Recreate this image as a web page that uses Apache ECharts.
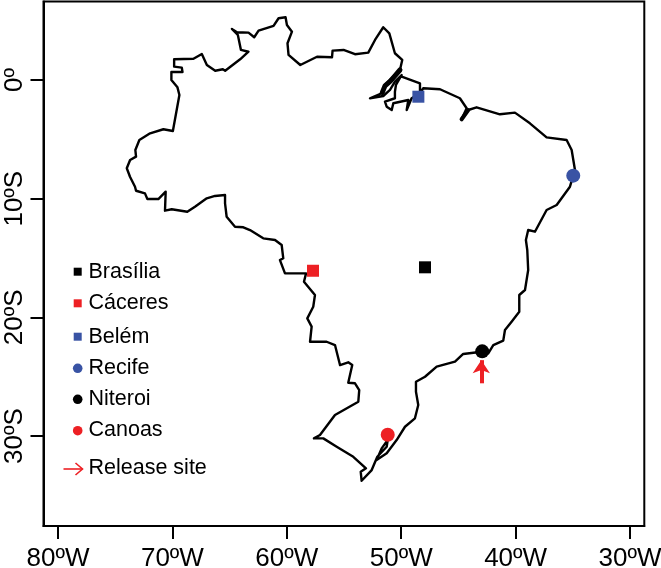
<!DOCTYPE html>
<html>
<head>
<meta charset="utf-8">
<script src="https://cdn.jsdelivr.net/npm/echarts@6/dist/echarts.min.js"></script>
<style>html,body{margin:0;padding:0;background:#fff}#c{width:661px;height:568px}</style>
</head>
<body>
<div id="c"></div>
<script>
// Axis ticks
const xTicks = [-80,-70,-60,-50,-40,-30];
const xTickLabels = ['80ºW','70ºW','60ºW','50ºW','40ºW','30ºW'];
const yTicks = [0,-10,-20,-30];
const yTickLabels = ['0º','10ºS','20ºS','30ºS'];

// Brazil outline
const outlineLon = [-73.99,-73.7,-73.18,-73.24,-72.89,-71.95,-70.79,-69.96,-69.39,-69.56,-70.09,-70.09,-69.12,-69.18,-69.85,-69.85,-68.16,-67.43,-66.99,-66.26,-65.59,-65.39,-64.08,-63.35,-64.01,-64.28,-64.8,-64.36,-63.35,-62.85,-62.47,-61.16,-60.72,-60.11,-59.99,-59.55,-59.94,-59.85,-58.82,-57.36,-56.05,-56,-55.04,-54.04,-52.88,-52.29,-51.57,-51.04,-50.55,-49.91,-50.11,-50.69,-51.42,-51.71,-52.73,-51.57,-50.98,-50.55,-49.96,-50.46,-50.55,-50.55,-51.42,-51.27,-50.83,-50.69,-49.38,-49.52,-49.09,-48.36,-48.36,-49.96,-48.36,-48.36,-48.07,-46.61,-44.87,-44.28,-44.72,-44.14,-43.41,-41.37,-40.06,-38.75,-37.29,-35.54,-35.1,-34.81,-34.96,-35.25,-36.41,-37.29,-38.31,-38.9,-39.1,-38.98,-38.9,-39.18,-39.68,-39.68,-40.35,-40.93,-41.08,-41.95,-42.39,-42.97,-44.58,-45.3,-46.9,-47.92,-48.71,-48.71,-48.51,-48.8,-49.67,-50.4,-51.27,-52.15,-52.21,-51.71,-51.18,-51.27,-52.09,-52.58,-53.46,-53.54,-53.08,-54.19,-55.64,-56.81,-57.63,-57.1,-55.79,-53.75,-53.67,-54.04,-54.63,-54.28,-54.63,-55.35,-55.79,-56.52,-57.97,-57.83,-58.21,-57.69,-57.54,-58.5,-58.32,-60.16,-60.6,-60.31,-60.45,-61.03,-62.06,-63.22,-63.8,-64.53,-65.26,-65.4,-65.4,-66.28,-67,-68.03,-68.7,-70.06,-70.65,-70.59,-71.23,-72.19,-72.4,-73.18,-73.27,-73.71,-73.99];
const outlineLat = [-7.44,-6.74,-6.46,-5.9,-5.06,-4.49,-4.15,-4.3,-1.26,-0.62,0,0.67,0.67,1.04,1.12,1.74,1.79,2.19,1.26,0.78,0.9,0.78,1.74,2.38,2.53,3.79,4.3,4.02,3.99,3.6,4.15,4.55,5.2,5.28,4.63,4.07,3.09,2.11,1.26,1.96,1.91,2.47,2.53,2.17,2.3,3.37,4.44,3.93,2.25,1.69,0.84,0.28,-0.42,-1.12,-1.54,-1.35,-0.84,-0.14,0.42,-0.42,-0.99,-1.54,-1.83,-2.25,-2.53,-1.96,-1.69,-2.53,-1.54,-1.12,-0.28,0.28,-0.28,-1.12,-0.7,-0.78,-1.54,-2.38,-3.31,-2.53,-2.3,-2.89,-2.75,-3.65,-4.83,-5.06,-5.9,-7.58,-8.06,-8.99,-10.53,-10.95,-12.78,-12.64,-13.48,-14.32,-16.01,-17.69,-18.11,-19.52,-20.36,-21.06,-21.96,-22.33,-23.03,-22.89,-23.08,-23.73,-24.15,-25,-25.42,-26.26,-27.38,-28.5,-29.21,-30.33,-31.45,-32.01,-31.87,-31.03,-30.33,-30.89,-31.74,-32.86,-33.76,-33,-32.71,-31.74,-30.9,-30.19,-30.19,-29.91,-28.22,-27.1,-26.12,-25.55,-25.5,-24.01,-23.78,-24.01,-22.33,-22.05,-22.05,-20.78,-20.08,-19.1,-18.11,-16.99,-16.29,-16.29,-15.17,-15.02,-13.9,-13.48,-13.34,-12.64,-12.41,-12.36,-11.52,-10.39,-9.69,-9.77,-9.97,-10.67,-11.1,-10.89,-11.01,-9.41,-10.03,-10.03,-9.55,-9.33,-8.99,-8.15,-7.44];

// Thick dark stretches of the coast: Amazon mouth and São Marcos bay
const estuaryLon = [-50.11,-50.55,-50.95,-51.42,-51.65];
const estuaryLat = [0.84,0.35,-0.1,-0.5,-1.05];
const bayLon = [-44.72,-44.14];
const bayLat = [-3.31,-2.53];

// Sites
const siteNames = ['Brasília','Cáceres','Belém','Recife','Niteroi','Canoas'];
const siteLon = [-47.92,-57.71,-48.5,-34.96,-42.92,-51.18];
const siteLat = [-15.78,-16.07,-1.41,-8.06,-22.86,-29.88];
const siteShape = ['rect','rect','rect','circle','circle','circle'];
const siteColor = ['#000000','#ed2024','#3953a4','#3953a4','#000000','#ed2024'];
const siteSize = [12,12,12,14,14,14];
const releaseLon = [-43,-43];
const releaseLat = [-25.55,-23.6];
const releaseLabel = 'Release site';

const legendRowY = [272,303,337,368,399,430];
const markerRowY = [271.7,303.3,336.7,368.3,399.3,430.7];
const font = '"Liberation Sans", Arial, sans-serif';

const chart = echarts.init(document.getElementById('c'), null, {renderer:'canvas'});
const pairs = (a,b)=>a.map((v,i)=>[v,b[i]]);
const series = [{
  type:'line', name:'Brazil', data:pairs(outlineLon,outlineLat),
  showSymbol:false, symbol:'none', silent:true, animation:false, z:2,
  lineStyle:{color:'#000',width:2.4,join:'round',cap:'round'}
},{
  type:'line', name:'Amazon mouth', data:pairs(estuaryLon,estuaryLat),
  showSymbol:false, symbol:'none', silent:true, animation:false, z:2,
  lineStyle:{color:'#000',width:5,join:'round',cap:'round'}
},{
  type:'line', name:'São Marcos bay', data:pairs(bayLon,bayLat),
  showSymbol:false, symbol:'none', silent:true, animation:false, z:2,
  lineStyle:{color:'#000',width:4,join:'round',cap:'round'}
}];
siteNames.forEach((n,i)=>series.push({
  type:'scatter', name:n, data:[[siteLon[i],siteLat[i]]], symbol:siteShape[i], symbolSize:siteSize[i],
  itemStyle:{color:siteColor[i],opacity:1}, animation:false, silent:true, z:4
}));
series.push({
  type:'lines', name:releaseLabel, coordinateSystem:'cartesian2d', animation:false, silent:true, z:5,
  symbol:['none','arrow'], symbolSize:13,
  lineStyle:{color:'#ed2024',width:4,opacity:1,curveness:0},
  data:[{coords:[[releaseLon[0],releaseLat[0]],[releaseLon[1],releaseLat[1]]]}]
});

const graphics = [];
const labelStyle = (t,y)=>({type:'text',x:88.5,y:y,style:{text:t,font:'21.5px '+font,fill:'#000',verticalAlign:'middle',align:'left'}});
siteNames.forEach((n,i)=>{
  graphics.push(labelStyle(n,legendRowY[i]));
  if(siteShape[i]==='rect'){
    graphics.push({type:'rect',shape:{x:73.7,y:markerRowY[i]-4,width:8,height:8},style:{fill:siteColor[i]}});
  } else {
    graphics.push({type:'circle',shape:{cx:77.7,cy:markerRowY[i],r:4.8},style:{fill:siteColor[i]}});
  }
});
graphics.push(labelStyle(releaseLabel,468));
graphics.push({type:'line',shape:{x1:63.5,y1:469,x2:82.5,y2:469},style:{stroke:'#ed2024',lineWidth:1.6}});
graphics.push({type:'polyline',shape:{points:[[75.5,463],[82.5,469],[75.5,475]]},style:{stroke:'#ed2024',lineWidth:1.6,fill:null}});

chart.setOption({
  animation:false,
  backgroundColor:'#fff',
  grid:{left:43.5,right:16.7,top:1.5,bottom:42,show:true,borderColor:'#000',borderWidth:2,backgroundColor:'transparent',containLabel:false,outerBoundsMode:'none'},
  xAxis:{type:'value',min:-81.27,max:-28.75,splitLine:{show:false},
    axisLine:{show:true,onZero:false,lineStyle:{color:'#000',width:2}},
    axisTick:{show:true,length:13,customValues:xTicks,lineStyle:{color:'#000',width:2}},
    axisLabel:{show:true,customValues:xTicks,margin:20,fontSize:26,fontFamily:font,color:'#000',
      hideOverlap:false,showMinLabel:true,showMaxLabel:true,
      formatter:v=>xTickLabels[xTicks.indexOf(v)]}},
  yAxis:{type:'value',min:-37.57,max:6.61,splitLine:{show:false},
    axisLine:{show:true,onZero:false,lineStyle:{color:'#000',width:2}},
    axisTick:{show:true,length:13,customValues:yTicks,lineStyle:{color:'#000',width:2}},
    axisLabel:{show:true,customValues:yTicks,rotate:90,margin:16,fontSize:26,fontFamily:font,color:'#000',
      hideOverlap:false,showMinLabel:true,showMaxLabel:true,
      formatter:v=>yTickLabels[yTicks.indexOf(v)]}},
  series:series,
  graphic:graphics
});
</script>
</body>
</html>
